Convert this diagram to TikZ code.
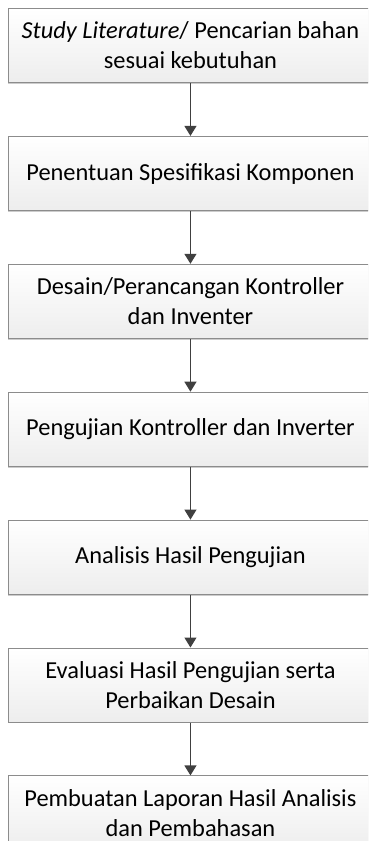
\documentclass[tikz,border=0pt]{standalone}
\usepackage{fontspec}
\setmainfont{Carlito}
\usetikzlibrary{positioning,arrows.meta,shadows}

\definecolor{stepline}{HTML}{8C8C8C}
\definecolor{steparrow}{HTML}{404040}
\newcommand\stepwidth{364pt}
\newcommand\stepheight{74.3pt}
\newcommand\steptextstyle{\fontsize{24.4}{30}\selectfont}

\tikzset{
  stepbox/.style={draw=stepline, line width=0.9pt, top color=white, bottom color=gray!14,
    minimum width=\stepwidth, minimum height=\stepheight, align=center, inner sep=0pt,
    font=\steptextstyle,
    drop shadow={shadow xshift=-0.8pt, shadow yshift=-1.2pt, opacity=.4, fill=gray}},
  steplink/.style={draw=steparrow, line width=1.2pt, -{Triangle[width=12pt,length=10pt]}}
}

\begin{document}
\begin{tikzpicture}[node distance=52.7pt, x=1pt, y=1pt]
  \useasboundingbox (0,-841) rectangle (368,0);
  \clip (0,-841) rectangle (368,0);
  % langkah-langkah penelitian
  \node[stepbox, below right] (study) at (8,-8) {\textit{Study Literature}/ Pencarian bahan\\sesuai kebutuhan};
  \node[stepbox, below=of study] (spek) {Penentuan Spesifikasi Komponen};
  \node[stepbox, below=of spek] (desain) {Desain/Perancangan Kontroller\\dan Inventer};
  \node[stepbox, below=of desain] (uji) {Pengujian Kontroller dan Inverter};
  \node[stepbox, below=of uji] (analisis) {Analisis Hasil Pengujian};
  \node[stepbox, below=of analisis] (evaluasi) {Evaluasi Hasil Pengujian serta\\Perbaikan Desain};
  \node[stepbox, below=of evaluasi] (laporan) {Pembuatan Laporan Hasil Analisis\\dan Pembahasan};
  % panah
  \draw[steplink] (study) -- (spek);
  \draw[steplink] (spek) -- (desain);
  \draw[steplink] (desain) -- (uji);
  \draw[steplink] (uji) -- (analisis);
  \draw[steplink] (analisis) -- (evaluasi);
  \draw[steplink] (evaluasi) -- (laporan);
\end{tikzpicture}
\end{document}
